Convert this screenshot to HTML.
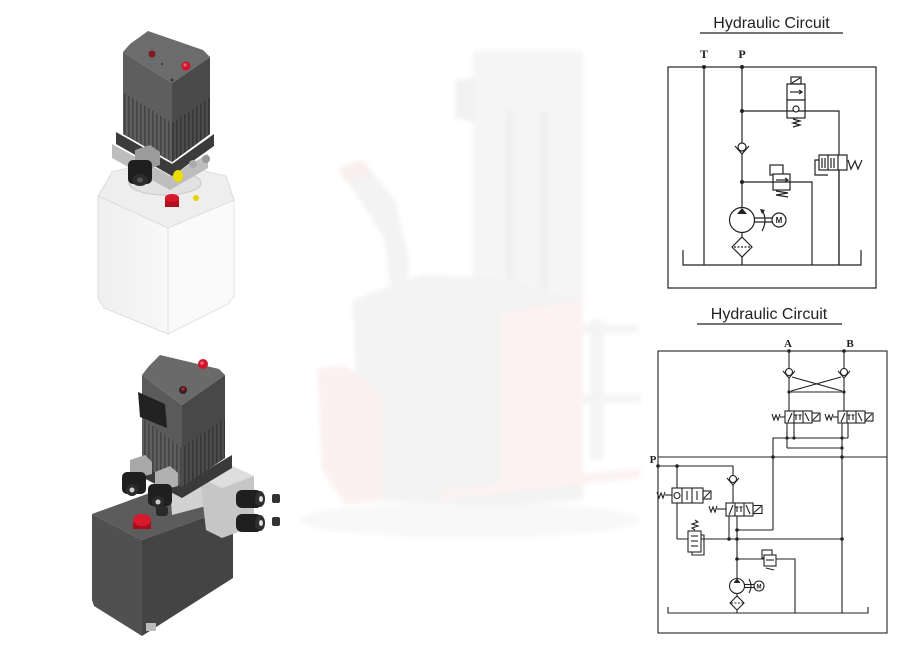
<!DOCTYPE html>
<html><head><meta charset="utf-8"><style>
html,body{margin:0;padding:0;background:#fff;}
svg{display:block;}
.t{font-family:"Liberation Sans",Arial,sans-serif;font-size:16px;fill:#222;}
.lbl{font-family:"Liberation Serif",serif;font-weight:bold;font-size:12px;fill:#222;}
.m{font-family:"Liberation Sans",Arial,sans-serif;font-size:8px;fill:#222;font-weight:bold;}
</style></head><body>
<svg width="900" height="645" viewBox="0 0 900 645" xmlns="http://www.w3.org/2000/svg">
<defs>
<pattern id="fin" width="4" height="10" patternUnits="userSpaceOnUse"><rect width="4" height="10" fill="#5f5f5f"/><rect width="1.6" height="10" fill="#444"/></pattern>
<pattern id="fin2" width="4" height="10" patternUnits="userSpaceOnUse"><rect width="4" height="10" fill="#4c4c4c"/><rect width="1.6" height="10" fill="#363636"/></pattern>
<linearGradient id="tl" x1="0" y1="0" x2="1" y2="0"><stop offset="0" stop-color="#efefef"/><stop offset="1" stop-color="#f8f8f8"/></linearGradient>
<filter id="bl" x="-10%" y="-10%" width="120%" height="120%"><feGaussianBlur stdDeviation="2.5"/></filter>
</defs>

<!-- faint forklift background -->
<g filter="url(#bl)">
<ellipse cx="470" cy="520" rx="170" ry="18" fill="#f8f8f8"/>
<rect x="473" y="50" width="110" height="405" fill="#f5f5f5"/>
<rect x="505" y="110" width="8" height="330" fill="#f0f0f0"/>
<rect x="540" y="110" width="8" height="330" fill="#f0f0f0"/>
<polygon points="455,80 475,78 475,122 455,118" fill="#f1f1f1"/>
<polygon points="338,168 362,160 395,200 410,265 405,285 390,285 385,240 360,200" fill="#f3f3f3"/>
<polygon points="338,168 362,160 370,175 345,182" fill="#fbeeee"/>
<polygon points="353,300 420,275 500,278 583,300 583,500 500,505 360,500" fill="#f3f3f3"/>
<polygon points="500,313 583,300 583,480 500,490" fill="#fdf2f2"/>
<polygon points="317,368 345,365 383,395 383,500 345,505 322,470" fill="#fcf1f1"/>
<rect x="583" y="325" width="55" height="8" fill="#f4f4f4"/>
<rect x="583" y="395" width="58" height="8" fill="#f4f4f4"/>
<rect x="590" y="320" width="14" height="140" fill="#f4f4f4"/>
<polygon points="440,490 640,468 640,478 440,500" fill="#fcf2f2"/>
</g>

<!-- ===== Top product (white tank) ===== -->
<g>
<polygon points="98,196 112,172 160,160 226,176 234,200 168,228" fill="#eeeeee" stroke="#dcdcdc" stroke-width="1"/>
<polygon points="98,196 168,228 168,334 104,308 98,298" fill="url(#tl)" stroke="#dedede" stroke-width="1"/>
<polygon points="168,228 234,200 234,296 228,304 168,334" fill="#fafafa" stroke="#e0e0e0" stroke-width="1"/>
<ellipse cx="165" cy="183" rx="36" ry="12" fill="#e2e2e2" stroke="#c8c8c8"/>
<rect x="165" y="198" width="14" height="9" fill="#b3101f"/>
<ellipse cx="172" cy="198" rx="7" ry="4" fill="#d8182c"/>
<ellipse cx="196" cy="198" rx="3" ry="3" fill="#e6d400"/>
<polygon points="112,144 170,176 208,154 208,168 170,190 112,158" fill="#bdbdbd"/>
<polygon points="116,132 172,164 214,134 214,146 172,176 116,144" fill="#3b3b3b"/>
<polygon points="123,52 172,83 172,162 123,134" fill="#5e5e5e"/>
<polygon points="172,83 210,57 210,134 172,162" fill="#4a4a4a"/>
<polygon points="123,92 172,123 172,162 123,134" fill="url(#fin)"/>
<polygon points="172,123 210,97 210,134 172,162" fill="url(#fin2)"/>
<polygon points="123,52 130,44 148,31 203,50 210,57 172,83" fill="#6c6c6c"/>
<circle cx="152" cy="54" r="3.5" fill="#7a1a1a"/>
<circle cx="186" cy="66" r="4.5" fill="#d0142c"/>
<circle cx="185" cy="65" r="1.6" fill="#f06070"/>
<circle cx="162" cy="64" r="1" fill="#333"/>
<circle cx="172" cy="80" r="1.5" fill="#333"/>
<polygon points="135,150 150,145 160,152 160,165 145,170 135,163" fill="#9c9c9c"/>
<rect x="128" y="160" width="24" height="24" rx="5" fill="#1f1f1f"/>
<ellipse cx="140" cy="180" rx="8" ry="6" fill="#2c2c2c"/>
<ellipse cx="140" cy="180" rx="3" ry="2.5" fill="#555"/>
<ellipse cx="178" cy="176" rx="5" ry="6" fill="#eedc00"/>
<circle cx="193" cy="164" r="4" fill="#aaa"/>
<circle cx="206" cy="159" r="4" fill="#999"/>
</g>

<!-- ===== Bottom product (dark tank) ===== -->
<g>
<polygon points="92,514 183,481 233,507 142,540" fill="#5c5c5c"/>
<polygon points="92,514 142,540 142,636 94,606 92,600" fill="#505050"/>
<polygon points="142,540 233,507 233,578 142,636" fill="#444444"/>
<rect x="133" y="520" width="18" height="9" fill="#a80d1c"/>
<ellipse cx="142" cy="520" rx="9" ry="6" fill="#d8182c"/>
<rect x="146" y="623" width="10" height="8" fill="#bbb"/>
<polygon points="170,485 210,472 210,505 172,515" fill="#d2d2d2"/>
<polygon points="200,478 232,466 254,476 254,526 222,538 206,530" fill="#c6c6c6"/>
<polygon points="200,478 232,466 254,476 222,488" fill="#dedede"/>
<rect x="236" y="490" width="26" height="18" rx="6" fill="#1f1f1f"/>
<rect x="236" y="514" width="26" height="18" rx="6" fill="#1f1f1f"/>
<ellipse cx="260" cy="499" rx="5" ry="8" fill="#2e2e2e"/>
<ellipse cx="260" cy="523" rx="5" ry="8" fill="#2e2e2e"/>
<ellipse cx="261" cy="499" rx="2" ry="3" fill="#ddd"/>
<ellipse cx="261" cy="523" rx="2" ry="3" fill="#ddd"/>
<rect x="272" y="494" width="8" height="9" rx="2" fill="#333"/>
<rect x="272" y="517" width="8" height="9" rx="2" fill="#333"/>
<polygon points="138,462 182,485 232,455 232,468 182,498 138,475" fill="#3a3a3a"/>
<polygon points="142,375 182,405 182,487 142,465" fill="#5a5a5a"/>
<polygon points="182,405 225,375 225,458 182,487" fill="#484848"/>
<polygon points="142,418 182,448 182,487 142,465" fill="url(#fin)"/>
<polygon points="182,448 225,418 225,458 182,487" fill="url(#fin2)"/>
<polygon points="142,375 149,366 160,355 219,369 225,375 182,405" fill="#6a6a6a"/>
<circle cx="203" cy="364" r="5" fill="#d0142c"/>
<circle cx="202" cy="363" r="1.8" fill="#f06070"/>
<circle cx="183" cy="390" r="4" fill="#3a2020"/>
<circle cx="183" cy="389" r="1.8" fill="#b02030"/>
<polygon points="138,392 165,404 167,428 140,417" fill="#222"/>
<polygon points="130,460 145,455 152,462 152,474 137,478 130,472" fill="#a8a8a8"/>
<rect x="122" y="472" width="24" height="22" rx="5" fill="#1f1f1f"/>
<ellipse cx="132" cy="490" rx="6" ry="6" fill="#2c2c2c"/>
<ellipse cx="132" cy="490" rx="2.5" ry="2.5" fill="#ccc"/>
<polygon points="155,472 170,466 178,473 178,486 162,490 155,484" fill="#b0b0b0"/>
<rect x="148" y="484" width="24" height="22" rx="5" fill="#1f1f1f"/>
<ellipse cx="158" cy="502" rx="6" ry="6" fill="#2c2c2c"/>
<ellipse cx="158" cy="502" rx="2.5" ry="2.5" fill="#ccc"/>
<rect x="156" y="506" width="12" height="10" rx="3" fill="#2a2a2a"/>
</g>

<!-- ===== Circuit 1 ===== -->
<text class="t" x="771.5" y="28" text-anchor="middle">Hydraulic Circuit</text>
<line x1="700" y1="33" x2="843" y2="33" stroke="#222" stroke-width="1.3"/>
<text class="lbl" x="704" y="58" text-anchor="middle">T</text>
<text class="lbl" x="742" y="58" text-anchor="middle">P</text>
<g stroke="#222" stroke-width="1.2" fill="none">
<rect x="668" y="67" width="208" height="221"/>
<line x1="704" y1="67" x2="704" y2="265"/>
<line x1="742" y1="67" x2="742" y2="143"/>
<circle cx="742" cy="147" r="4"/>
<polyline points="735,146 742,154 749,146"/>
<line x1="742" y1="154" x2="742" y2="208"/>
<polyline points="742,111 839,111 839,265"/>
<rect x="787" y="84" width="18" height="16" fill="#fff"/>
<rect x="787" y="100" width="18" height="18" fill="#fff"/>
<line x1="790" y1="92" x2="802" y2="92"/>
<polyline points="799,90 802,92 799,94"/>
<line x1="787" y1="111" x2="805" y2="111"/>
<circle cx="796" cy="109" r="3" fill="#fff"/>
<rect x="791" y="77" width="10" height="7"/>
<line x1="792" y1="83" x2="800" y2="78"/>
<polyline points="793,119 800,121 793,123 800,125 793,127"/>
<polyline points="742,182 812,182 812,265"/>
<rect x="770" y="165" width="13" height="10" fill="#fff"/>
<rect x="773" y="174" width="17" height="16" fill="#fff"/>
<line x1="776" y1="180" x2="788" y2="180"/>
<polyline points="785,178 788,180 785,182"/>
<line x1="773" y1="182" x2="790" y2="182"/>
<polyline points="776,191 788,193 776,195 788,197"/>
<polyline points="822,160 815,160 815,175 828,175"/>
<rect x="819" y="155" width="28" height="15" fill="#fff"/>
<line x1="828" y1="155" x2="828" y2="170"/>
<line x1="838" y1="155" x2="838" y2="170"/>
<line x1="822" y1="168" x2="822" y2="158"/><line x1="825" y1="168" x2="825" y2="158"/>
<line x1="831" y1="168" x2="831" y2="158"/><line x1="834" y1="168" x2="834" y2="158"/>
<line x1="839" y1="170" x2="839" y2="265"/>
<polyline points="848,160 851,169 855,161 858,169 862,160"/>
<circle cx="742" cy="220" r="12.5" fill="#fff"/>
<line x1="754.5" y1="218" x2="772" y2="218"/>
<line x1="754.5" y1="222" x2="772" y2="222"/>
<path d="M762,231 Q768,220 762,210"/>
<circle cx="779" cy="220" r="7" fill="#fff"/>
<line x1="742" y1="232.5" x2="742" y2="237"/>
<polygon points="742,237 752,247 742,257 732,247"/>
<line x1="734" y1="247" x2="750" y2="247" stroke-dasharray="2,1.5"/>
<line x1="742" y1="257" x2="742" y2="265"/>
<polyline points="683,250 683,265 861,265 861,250"/>
</g>
<polygon points="742,208 737,214 747,214" fill="#222"/>
<polygon points="760,209 765,210 762,214" fill="#222"/>
<text class="m" x="779" y="223" text-anchor="middle">M</text>
<g fill="#222">
<circle cx="704" cy="67" r="2"/><circle cx="742" cy="67" r="2"/>
<circle cx="742" cy="111" r="2"/><circle cx="742" cy="182" r="2"/>
</g>

<!-- ===== Circuit 2 ===== -->
<text class="t" x="769" y="319" text-anchor="middle">Hydraulic Circuit</text>
<line x1="697" y1="324" x2="842" y2="324" stroke="#222" stroke-width="1.3"/>
<text class="lbl" x="788" y="347" text-anchor="middle" style="font-size:11px">A</text>
<text class="lbl" x="850" y="347" text-anchor="middle" style="font-size:11px">B</text>
<text class="lbl" x="653" y="463" text-anchor="middle" style="font-size:11px">P</text>
<g stroke="#222" stroke-width="1.1" fill="none">
<rect x="658" y="351" width="229" height="282"/>
<line x1="789" y1="351" x2="789" y2="369"/>
<circle cx="789" cy="372" r="3.5"/>
<polyline points="783,371 789,378 795,371"/>
<line x1="789" y1="378" x2="789" y2="411"/>
<line x1="844" y1="351" x2="844" y2="369"/>
<circle cx="844" cy="372" r="3.5"/>
<polyline points="838,371 844,378 850,371"/>
<line x1="844" y1="378" x2="844" y2="411"/>
<line x1="792" y1="377" x2="842" y2="391"/>
<line x1="841" y1="377" x2="791" y2="391"/>
<line x1="789" y1="392" x2="844" y2="392"/>
<g transform="translate(785,411)">
<rect x="0" y="0" width="27" height="12" fill="#fff"/>
<line x1="9" y1="0" x2="9" y2="12"/><line x1="18" y1="0" x2="18" y2="12"/>
<line x1="3" y1="11" x2="7" y2="2"/>
<line x1="11" y1="4" x2="11" y2="9"/><line x1="9.5" y1="4" x2="12.5" y2="4"/>
<line x1="15" y1="4" x2="15" y2="9"/><line x1="13.5" y1="4" x2="16.5" y2="4"/>
<line x1="20" y1="2" x2="24" y2="10"/>
<rect x="27" y="2" width="8" height="8"/><line x1="28" y1="9" x2="34" y2="3"/>
<polyline points="-13,3 -11,9 -9,4 -7,9 -5,3"/><line x1="-5" y1="6" x2="0" y2="6"/>
</g>
<g transform="translate(838,411)">
<rect x="0" y="0" width="27" height="12" fill="#fff"/>
<line x1="9" y1="0" x2="9" y2="12"/><line x1="18" y1="0" x2="18" y2="12"/>
<line x1="3" y1="11" x2="7" y2="2"/>
<line x1="11" y1="4" x2="11" y2="9"/><line x1="9.5" y1="4" x2="12.5" y2="4"/>
<line x1="15" y1="4" x2="15" y2="9"/><line x1="13.5" y1="4" x2="16.5" y2="4"/>
<line x1="20" y1="2" x2="24" y2="10"/>
<rect x="27" y="2" width="8" height="8"/><line x1="28" y1="9" x2="34" y2="3"/>
<polyline points="-13,3 -11,9 -9,4 -7,9 -5,3"/><line x1="-5" y1="6" x2="0" y2="6"/>
</g>
<line x1="787" y1="423" x2="787" y2="448"/>
<line x1="794" y1="423" x2="794" y2="438"/>
<line x1="848" y1="423" x2="848" y2="438"/>
<polyline points="773,530 773,438 848,438"/>
<line x1="787" y1="448" x2="842" y2="448"/>
<line x1="842" y1="423" x2="842" y2="613"/>
<line x1="658" y1="457" x2="887" y2="457"/>
<polyline points="658,466 733,466 733,476"/>
<circle cx="733" cy="479" r="3.5"/>
<polyline points="727,478 733,485 739,478"/>
<line x1="733" y1="485" x2="733" y2="503"/>
<line x1="677" y1="466" x2="677" y2="539"/>
<rect x="672" y="488" width="31" height="15" fill="#fff"/>
<line x1="682" y1="488" x2="682" y2="503"/><line x1="692" y1="488" x2="692" y2="503"/>
<circle cx="677" cy="495.5" r="3" fill="#fff"/>
<line x1="687" y1="491" x2="687" y2="500"/><line x1="697" y1="491" x2="697" y2="500"/>
<rect x="703" y="491" width="8" height="8"/><line x1="704" y1="498" x2="710" y2="492"/>
<polyline points="657,492 659,498 661,493 663,498 665,492"/><line x1="665" y1="495" x2="672" y2="495"/>
<g transform="translate(726,503)">
<rect x="0" y="0" width="27" height="13" fill="#fff"/>
<line x1="9" y1="0" x2="9" y2="13"/><line x1="18" y1="0" x2="18" y2="13"/>
<line x1="3" y1="12" x2="7" y2="2"/>
<line x1="11" y1="4" x2="11" y2="9"/><line x1="9.5" y1="4" x2="12.5" y2="4"/>
<line x1="15" y1="4" x2="15" y2="9"/><line x1="13.5" y1="4" x2="16.5" y2="4"/>
<line x1="20" y1="2" x2="24" y2="11"/>
<rect x="27" y="2.5" width="9" height="8"/><line x1="28" y1="9.5" x2="35" y2="3.5"/>
<polyline points="-17,3 -15,9 -13,4 -11,9 -9,3"/><line x1="-9" y1="6" x2="0" y2="6"/>
</g>
<line x1="729" y1="516" x2="729" y2="539"/>
<line x1="737" y1="516" x2="737" y2="578"/>
<line x1="737" y1="530" x2="773" y2="530"/>
<line x1="677" y1="539" x2="842" y2="539"/>
<polyline points="695,520 698,522 692,524 698,526 692,528 695,530"/>
<rect x="688" y="531" width="13" height="21" fill="#fff"/>
<line x1="691" y1="536" x2="698" y2="536"/><line x1="691" y1="541" x2="698" y2="541"/><line x1="691" y1="546" x2="698" y2="546"/>
<polyline points="701,535 704,535 704,555 692,555 692,552"/>
<polyline points="737,559 795,559 795,613"/>
<rect x="762" y="550" width="10" height="8" fill="#fff"/>
<rect x="764" y="555" width="12" height="11" fill="#fff"/>
<line x1="766" y1="560" x2="774" y2="560"/>
<polyline points="766,568 774,570"/>
<circle cx="737" cy="586" r="7.5" fill="#fff"/>
<line x1="744.5" y1="584.5" x2="754" y2="584.5"/>
<line x1="744.5" y1="587.5" x2="754" y2="587.5"/>
<path d="M749,593 Q753,586 749,579"/>
<circle cx="759" cy="586" r="5" fill="#fff"/>
<line x1="737" y1="593.5" x2="737" y2="596"/>
<polygon points="737,596 744,603 737,610 730,603"/>
<line x1="731" y1="603" x2="743" y2="603" stroke-dasharray="2,1.5"/>
<line x1="737" y1="610" x2="737" y2="613"/>
<polyline points="668,607 668,613 868,613 868,607"/>
</g>
<polygon points="737,578.5 733.5,583 740.5,583" fill="#222"/>
<text class="m" x="759" y="588.5" text-anchor="middle" style="font-size:6px">M</text>
<g fill="#222">
<circle cx="789" cy="351" r="1.8"/><circle cx="844" cy="351" r="1.8"/>
<circle cx="789" cy="392" r="1.6"/><circle cx="844" cy="392" r="1.6"/>
<circle cx="794" cy="438" r="1.6"/><circle cx="787" cy="438" r="1.6"/><circle cx="842" cy="448" r="1.6"/><circle cx="842" cy="438" r="1.6"/>
<circle cx="773" cy="457" r="1.8"/><circle cx="842" cy="457" r="1.8"/>
<circle cx="658" cy="466" r="1.8"/><circle cx="677" cy="466" r="1.8"/>
<circle cx="737" cy="530" r="1.8"/><circle cx="729" cy="539" r="1.8"/><circle cx="737" cy="539" r="1.8"/><circle cx="842" cy="539" r="1.8"/>
<circle cx="737" cy="559" r="1.8"/>
</g>
</svg>
</body></html>
